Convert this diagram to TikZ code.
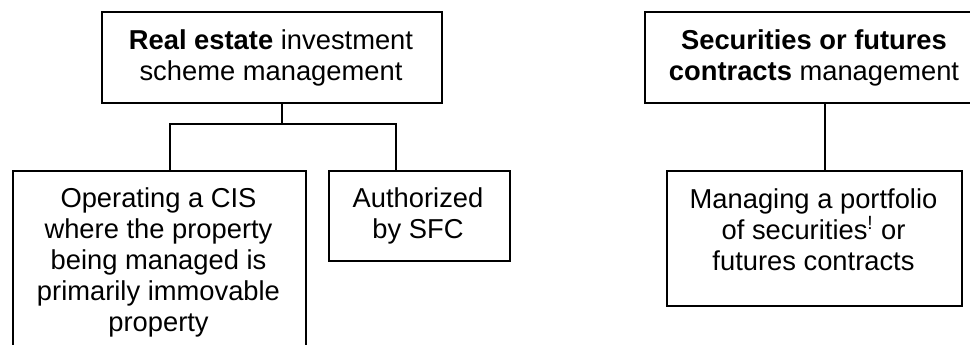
\documentclass[tikz,border=0pt]{standalone}
\usepackage{fontspec}
\setmainfont{Liberation Sans}
\begin{document}
\begin{tikzpicture}[x=0.75pt,y=-0.75pt,
  box/.style={draw, line width=1.3pt, inner sep=0pt, anchor=north west},
  txt/.style={font=\fontsize{20.5}{23.3}\selectfont, align=center, anchor=north, inner sep=0pt},
  link/.style={line width=1.3pt}]
\useasboundingbox (0,0) rectangle (970,345);
\clip (0,0) rectangle (970,345);
% boxes
\node[box, minimum width=255pt, minimum height=68.25pt] (A) at (101,11) {};
\node[box, minimum width=219.75pt, minimum height=142.5pt] (B) at (12,170) {};
\node[box, minimum width=135.75pt, minimum height=67.5pt] (C) at (328,170) {};
\node[box, minimum width=255pt, minimum height=68.25pt] (D) at (644,11) {};
\node[box, minimum width=221.25pt, minimum height=101.25pt] (E) at (666,170) {};
% texts
\node[txt] (tA) at (271,29) {\textbf{Real estate} investment\\scheme management};
\node[txt] (tB) at (158.5,187) {Operating a CIS\\where the property\\being managed is\\primarily immovable\\property};
\node[txt] (tC) at (418,187) {Authorized\\by SFC};
\node[txt] (tD) at (814,29) {\textbf{Securities or futures}\\\textbf{contracts} management};
\node[txt] (tE) at (813.5,188) {Managing a portfolio\\of securities\textsuperscript{!} or\\futures contracts};
% connectors
\coordinate (ja) at (282,124);
\coordinate (jb) at (170,124);
\coordinate (jc) at (396,124);
\coordinate (jd) at (825,0);
\draw[link] (A.south -| ja) -- (ja);
\draw[link] (B.north -| jb) -- (jb) -- (jc) -- (C.north -| jc);
\draw[link] (D.south -| jd) -- (E.north -| jd);
\end{tikzpicture}
\end{document}
